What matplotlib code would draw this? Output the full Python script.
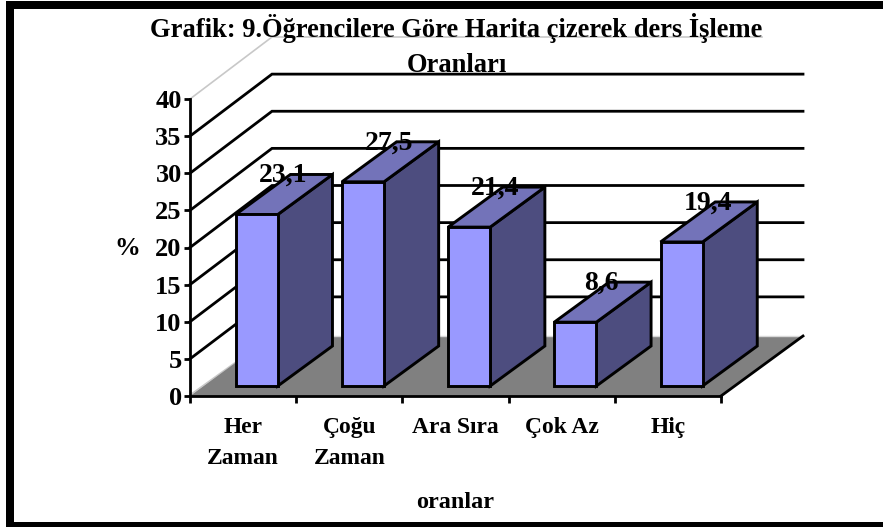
import matplotlib
matplotlib.use("Agg")
import matplotlib.pyplot as plt
from matplotlib.patches import Polygon, Rectangle

categories = ["Her\nZaman", "Çoğu\nZaman", "Ara Sıra", "Çok Az", "Hiç"]
values = [23.1, 27.5, 21.4, 8.6, 19.4]
value_labels = ["23,1", "27,5", "21,4", "8,6", "19,4"]
y_ticks = [0, 5, 10, 15, 20, 25, 30, 35, 40]

W, H = 883, 527
plt.rcParams["font.family"] = "Liberation Serif"
plt.rcParams["font.weight"] = "bold"

fig = plt.figure(figsize=(W / 100, H / 100), dpi=100)
ax = fig.add_axes([190 / W, 1 - 396 / H, 531 / W, 297 / H])
ax.set_xlim(0, 5)
ax.set_ylim(0, 40)
ax.patch.set_alpha(0)

# depth of the fake 3d box, in data units
depth_x = 82 / 106.2
depth_y = 60 / 7.425
wall_depth_y = 62 / 7.425
bar_w = 0.396
bar_start = 1 / 6
bar_depth = 2 / 3

front = "#9999FF"
top = "#7373B9"
side = "#4D4D7F"


def poly(points, color, edge="black", lw=2.1, z=2):
    ax.add_patch(Polygon(points, closed=True, facecolor=color, edgecolor=edge, linewidth=lw,
                         joinstyle="miter", clip_on=False, zorder=z))


# side wall and back wall lines
for t in y_ticks[1:-1]:
    ax.plot([0, depth_x, 5 + depth_x], [t, t + wall_depth_y, t + wall_depth_y], color="black", lw=2,
            clip_on=False, zorder=1, solid_joinstyle="miter")
ax.plot([0, depth_x, 5 + depth_x * 0.5], [40, 40 + wall_depth_y, 40 + wall_depth_y], color="#C8C8C8", lw=1.2,
        clip_on=False, zorder=1)
ax.plot([0, depth_x], [0.15, depth_y], color="#C8C8C8", lw=1, clip_on=False, zorder=1)

# floor
ax.add_patch(Polygon([(0, 0), (5, 0), (5 + depth_x, depth_y), (depth_x, depth_y)], closed=True,
                     facecolor="#808080", edgecolor="none", clip_on=False, zorder=1.5))
ax.plot([depth_x, 5 + depth_x * 0.97], [depth_y, depth_y], color="#D8D8D8", lw=1, clip_on=False, zorder=1.6)
ax.plot([5, 5 + depth_x], [0, depth_y], color="black", lw=2, clip_on=False, zorder=1.7)

# bars
for i, v in enumerate(values):
    x0 = i + 0.5 - bar_w / 2 + depth_x * bar_start
    x1 = x0 + bar_w
    y0 = depth_y * bar_start
    y1 = y0 + v
    dx = depth_x * bar_depth
    dy = depth_y * bar_depth
    poly([(x1, y0), (x1 + dx, y0 + dy), (x1 + dx, y1 + dy), (x1, y1)], side, z=3 + i)
    poly([(x0, y1), (x1, y1), (x1 + dx, y1 + dy), (x0 + dx, y1 + dy)], top, z=3 + i)
    poly([(x0, y0), (x1, y0), (x1, y1), (x0, y1)], front, z=3 + i)
    ax.text(i + 0.5 + 0.375, v + 6.6, value_labels[i], ha="center", va="center", fontsize=20,
            clip_on=False, zorder=20)

# axes
for s in ["top", "right"]:
    ax.spines[s].set_visible(False)
for s in ["left", "bottom"]:
    ax.spines[s].set_linewidth(2)
    ax.spines[s].set_zorder(15)
ax.set_yticks(y_ticks)
ax.tick_params(axis="y", length=4, width=2, labelsize=19, pad=2)
ax.set_xticks(range(6))
ax.set_xticklabels([])
ax.set_xticks([i + 0.5 for i in range(5)], minor=True)
ax.set_xticklabels(categories, minor=True, fontsize=16.9, linespacing=1.62, va="top")
ax.tick_params(axis="x", which="major", length=5, width=2)
ax.tick_params(axis="x", which="minor", length=0, pad=15)

fig.text(127 / W, 1 - 249 / H, "%", ha="center", va="center", fontsize=18.5)
fig.text(455 / W, 1 - 502 / H, "oranlar", ha="center", va="center", fontsize=17.5)
fig.text(456.5 / W, 1 - 45.5 / H, "Grafik: 9.Öğrencilere Göre Harita çizerek ders İşleme\nOranları",
         ha="center", va="center", fontsize=19.1, linespacing=1.52, zorder=30)

# black frame, the picture has none on the right
for x, y, w, h in [(6, 1, W - 6, 8), (6, H - 5, W - 6, 5), (6, 1, 8, H - 1)]:
    fig.add_artist(Rectangle((x / W, 1 - (y + h) / H), w / W, h / H, facecolor="black", edgecolor="none",
                             transform=fig.transFigure))

fig.savefig("out.png", dpi=100)
